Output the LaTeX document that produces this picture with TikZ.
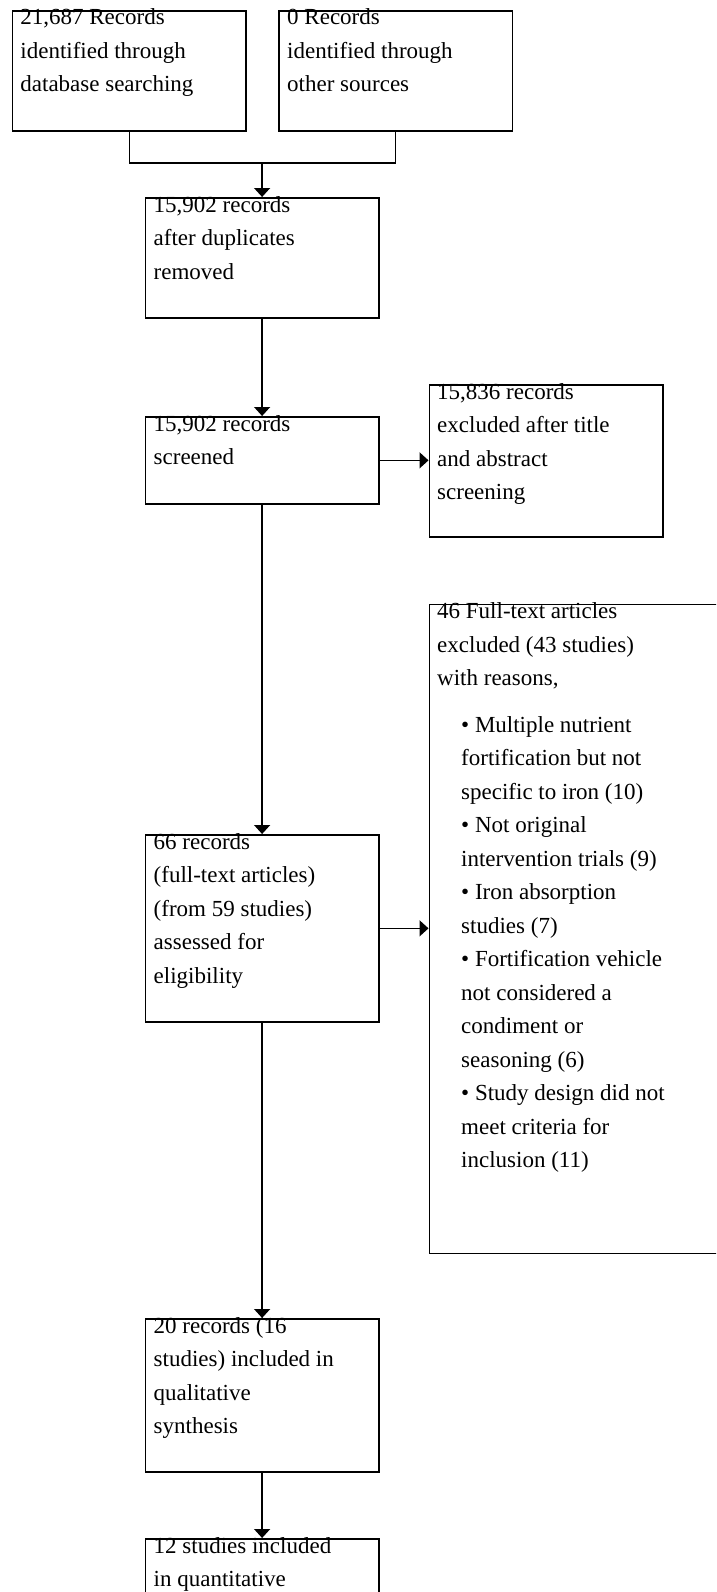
\documentclass[tikz,border=0pt]{standalone}
\usepackage{fontspec}
\setmainfont{Liberation Serif}
\usetikzlibrary{arrows.meta,calc}
\newcommand\boxlines[1]{\parbox[t]{300pt}{\fontsize{23}{33.5}\selectfont\raggedright #1}}
\begin{document}
\begin{tikzpicture}[x=1pt,y=-1pt,
  box/.style={draw=black,line width=1.7pt,inner sep=0pt,anchor=north west,minimum width=#1},
  box/.default=233.5pt,
  txt/.style={inner sep=0pt,anchor=base west},
  conn/.style={line width=1.4pt},
  arr/.style={conn,-{Triangle[width=16pt,length=9pt]}}]
\useasboundingbox (0,0) rectangle (716,1592);
\clip (0,0) rectangle (716,1592);
\fill[white] (0,0) rectangle (716,1592);
% boxes
\node[box,minimum height=120pt] (A) at (11.7,10) {};
\node[box,minimum height=120pt] (B) at (278,10) {};
\node[box,minimum height=120pt] (C) at (144.5,197) {};
\node[box,minimum height=87pt] (D) at (144.5,416) {};
\node[box,minimum height=152pt] (E) at (428.5,384) {};
\node[box=340pt,minimum height=649pt] (F) at (428.5,603.5) {};
\node[box,minimum height=187pt] (G) at (144.5,834) {};
\node[box,minimum height=153pt] (H) at (144.5,1318) {};
\node[box,minimum height=120pt] (I) at (144.5,1538) {};
% texts
\node[txt] (tA) at ($(A.north west)+(8.5,15)$) {\boxlines{21,687 Records\\identified through\\database searching}};
\node[txt] (tB) at ($(B.north west)+(9,15)$) {\boxlines{0 Records\\identified through\\other sources}};
\node[txt] (tC) at ($(C.north west)+(9,15)$) {\boxlines{15,902 records\\after duplicates\\removed}};
\node[txt] (tD) at ($(D.north west)+(9,15)$) {\boxlines{15,902 records\\screened}};
\node[txt] (tE) at ($(E.north west)+(8.5,15)$) {\boxlines{15,836 records\\excluded after title\\and abstract\\screening}};
\node[txt] (tF) at ($(F.north west)+(8.5,15)$) {\boxlines{46 Full-text articles\\excluded (43 studies)\\with reasons,}};
\node[txt] (tF2) at ($(F.north west)+(32.5,128.5)$) {\boxlines{• Multiple nutrient\\fortification but not\\specific to iron (10)\\• Not original\\intervention trials (9)\\• Iron absorption\\studies (7)\\• Fortification vehicle\\not considered a\\condiment or\\seasoning (6)\\• Study design did not\\meet criteria for\\inclusion (11)}};
\node[txt] (tG) at ($(G.north west)+(9,15)$) {\boxlines{66 records\\(full-text articles)\\(from 59 studies)\\assessed for\\eligibility}};
\node[txt] (tH) at ($(H.north west)+(9,15)$) {\boxlines{20 records (16\\studies) included in\\qualitative\\synthesis}};
\node[txt] (tI) at ($(I.north west)+(9,15)$) {\boxlines{12 studies included\\in quantitative}};
% connectors
\coordinate (j) at (C.north |- 0,163);
\draw[conn] (A.south) -- (A.south |- j) -- (B.south |- j) -- (B.south);
\draw[arr] (j) -- (C.north);
\draw[arr] (C.south) -- (D.north);
\draw[arr] (D.east) -- (D.east -| E.west);
\draw[arr] (D.south) -- (G.north);
\draw[arr] (G.east) -- (G.east -| F.west);
\draw[arr] (G.south) -- (H.north);
\draw[arr] (H.south) -- (I.north);
\end{tikzpicture}
\end{document}
